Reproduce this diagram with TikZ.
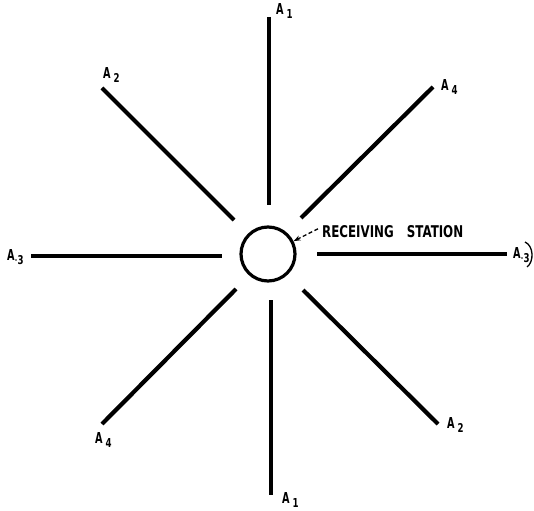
\documentclass[tikz,border=0pt]{standalone}
\usepackage{fontspec}
\setmainfont{DejaVu Sans}
\usetikzlibrary{arrows.meta}
\newcommand{\antA}{\resizebox{7.5pt}{11pt}{\bfseries A}}
\newcommand{\antsub}[1]{\raisebox{-4pt}{\resizebox{6pt}{9pt}{\bfseries #1}}}
\newcommand{\antlab}[1]{\antA\hspace{3pt}\antsub{#1}}
\newcommand{\antlabdot}[1]{\antA\hspace{0.5pt}\raisebox{-1pt}{\resizebox{2pt}{2pt}{\bfseries .}}\hspace{0.5pt}\antsub{#1}}
\begin{document}
\begin{tikzpicture}[x=1pt,y=-1pt,
  spoke/.style={line width=4.2pt},
  lab/.style={inner sep=0pt, anchor=base west}]
\useasboundingbox (0,0) rectangle (534,510);
\fill[white] (0,0) rectangle (534,510);
\node[circle, draw, line width=3.2pt, minimum size=54pt, inner sep=0pt] (st) at (268,254) {};
% spokes
\coordinate (n1) at (269,17);  \coordinate (n2) at (269,205);
\coordinate (s1) at (271,300); \coordinate (s2) at (271,495);
\coordinate (w1) at (31,256);  \coordinate (w2) at (222,256);
\coordinate (e1) at (317,254); \coordinate (e2) at (507,254);
\coordinate (nw1) at (102,88); \coordinate (nw2) at (234,220);
\coordinate (ne1) at (433,87); \coordinate (ne2) at (301,218);
\coordinate (sw1) at (236,289); \coordinate (sw2) at (102,424);
\coordinate (se1) at (303,290); \coordinate (se2) at (438,424);
\draw[spoke] (n1) -- (n2);
\draw[spoke] (s1) -- (s2);
\draw[spoke] (w1) -- (w2);
\draw[spoke] (e1) -- (e2);
\draw[spoke] (nw1) -- (nw2);
\draw[spoke] (ne1) -- (ne2);
\draw[spoke] (sw1) -- (sw2);
\draw[spoke] (se1) -- (se2);
% labels
\node[lab] (la1) at (276,15) {\antlab{1}};
\node[lab] (la2) at (103,79) {\antlab{2}};
\node[lab] (la4) at (441,91) {\antlab{4}};
\node[lab] (la3) at (7,260) {\antlabdot{3}};
\node[lab] (lb3) at (513,258) {\antlabdot{3}};
\node[lab] (lb4) at (95,443) {\antlab{4}};
\node[lab] (lb2) at (447,428) {\antlab{2}};
\node[lab] (lb1) at (282,503) {\antlab{1}};
\draw[line width=1.3pt] (525,242) .. controls (534,246) and (534,262) .. (527,267);
% receiving station
\node[inner sep=0pt, anchor=base west] (rs) at (322,237) {\resizebox{141pt}{12pt}{\bfseries RECEIVING\hspace{1.1em}STATION}};
\draw[line width=1.3pt, dash pattern=on 4pt off 2.5pt, -{Stealth[length=7pt,width=5pt]}] ([xshift=-4pt,yshift=-4pt]rs.north west) -- (st);
\end{tikzpicture}
\end{document}
